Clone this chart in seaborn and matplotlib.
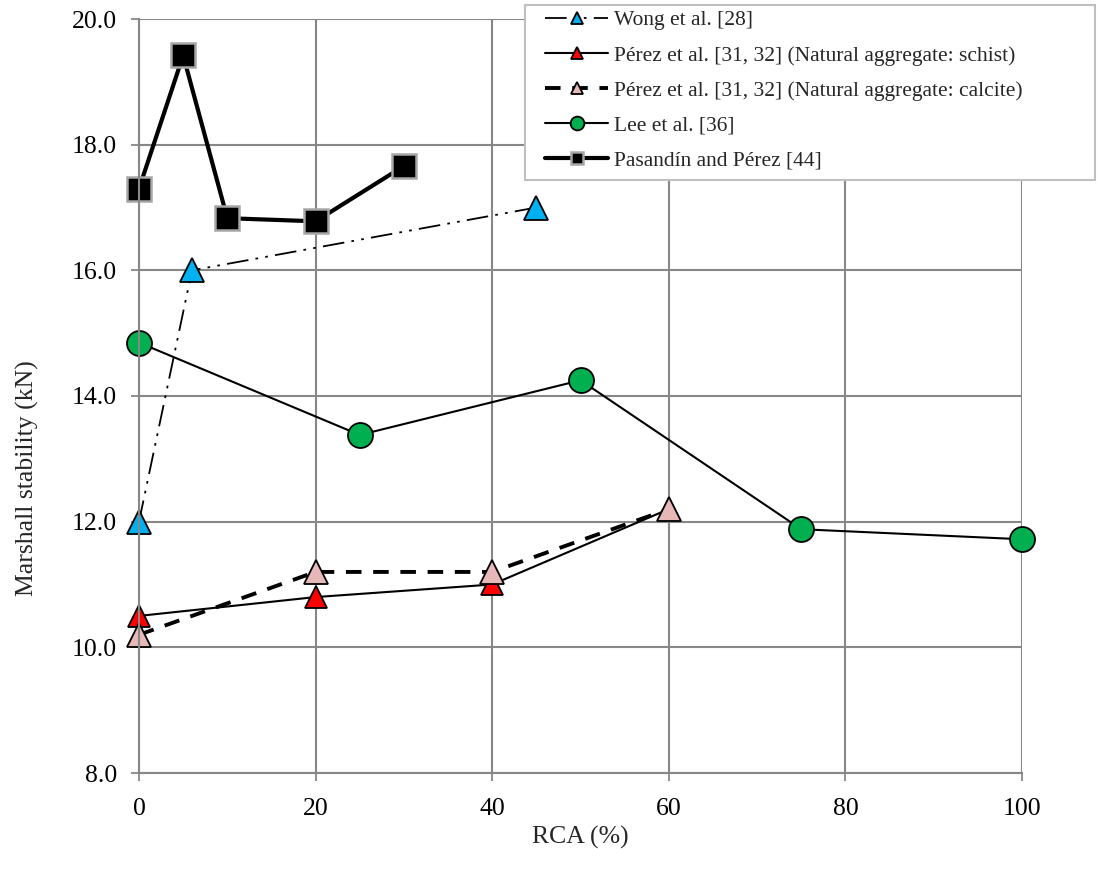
import matplotlib
matplotlib.use("Agg")
import matplotlib.pyplot as plt
from matplotlib.patches import Rectangle
import seaborn as sns

# Data
wong_x = [0, 6, 45]
wong_y = [12.0, 16.0, 17.0]

schist_x = [0, 20, 40, 60]
schist_y = [10.5, 10.8, 11.0, 12.2]

calcite_x = [0, 20, 40, 60]
calcite_y = [10.2, 11.2, 11.2, 12.2]

lee_x = [0, 25, 50, 75, 100]
lee_y = [14.85, 13.38, 14.25, 11.88, 11.72]

pas_x = [0, 5, 10, 20, 30]
pas_y = [17.3, 19.42, 16.83, 16.78, 17.66]

x_ticks = [0, 20, 40, 60, 80, 100]
y_ticks = [8, 10, 12, 14, 16, 18, 20]

sns.set_style("whitegrid")
plt.rcParams['font.family'] = ['Liberation Serif', 'DejaVu Serif']

fig = plt.figure(figsize=(10.99, 8.84), dpi=100)
ax = fig.add_axes([139 / 1099, 1 - 773 / 884, (1022 - 139) / 1099, (773 - 19) / 884])

grid_c = '#878787'

sns.lineplot(x=wong_x, y=wong_y, ax=ax, sort=False, color='black', lw=1.3,
             linestyle=(0, (12, 4, 1.5, 4, 1.5, 4)), marker='^', markersize=17,
             markerfacecolor='#00B0F0', markeredgecolor='black', markeredgewidth=1.3,
             label='Wong et al. [28]', clip_on=False)
sns.lineplot(x=schist_x, y=schist_y, ax=ax, sort=False, color='black', lw=1.5,
             marker='^', markersize=16, markerfacecolor='#FF0000',
             markeredgecolor='black', markeredgewidth=1.3,
             label='Pérez et al. [31, 32] (Natural aggregate: schist)', clip_on=False)
sns.lineplot(x=calcite_x, y=calcite_y, ax=ax, sort=False, color='black', lw=2.8,
             linestyle=(0, (4, 3)), marker='^', markersize=17,
             markerfacecolor='#E6B9B8', markeredgecolor='black', markeredgewidth=1.3,
             label='Pérez et al. [31, 32] (Natural aggregate: calcite)', clip_on=False)
sns.lineplot(x=lee_x, y=lee_y, ax=ax, sort=False, color='black', lw=1.5,
             marker='o', markersize=18, markerfacecolor='#00B050',
             markeredgecolor='black', markeredgewidth=1.3,
             label='Lee et al. [36]', clip_on=False)
sns.lineplot(x=pas_x, y=pas_y, ax=ax, sort=False, color='black', lw=3,
             marker='s', markersize=17, markerfacecolor='black',
             markeredgecolor='#A6A6A6', markeredgewidth=1.8,
             label='Pasandín and Pérez [44]', clip_on=False)

ax.set_xlim(0, 100)
ax.set_ylim(8, 20)
ax.set_xticks(x_ticks)
ax.set_yticks(y_ticks)
ax.set_yticklabels([f'{v:.1f}' for v in y_ticks])
ax.tick_params(axis='both', labelsize=18.5, colors=grid_c, labelcolor='black',
               length=6, width=1.3, direction='out', left=True, bottom=True)
ax.tick_params(axis='x', pad=12)
ax.tick_params(axis='y', pad=10)
ax.grid(True, color=grid_c, linewidth=1.5)
ax.set_axisbelow(True)
for side in ['top', 'right']:
    ax.spines[side].set_visible(False)
for side in ['left', 'bottom']:
    ax.spines[side].set_color(grid_c)
    ax.spines[side].set_linewidth(1.5)

ax.set_xlabel('RCA (%)', fontsize=18.5, labelpad=4)
ax.set_ylabel('Marshall stability (kN)', fontsize=18.5)
ax.yaxis.set_label_coords(-0.113, 0.391)

# legend frame drawn separately so it can be wider than its contents
frame = Rectangle((525 / 1099, 1 - 180 / 884), 570 / 1099, 175 / 884,
                  transform=fig.transFigure, facecolor='white',
                  edgecolor='#BFBFBF', linewidth=1.5, zorder=4, clip_on=False)
ax.add_artist(frame)
leg = ax.legend(loc='upper left', bbox_to_anchor=(541 / 1099, 1 - 6 / 884),
                bbox_transform=fig.transFigure, fontsize=15.5, frameon=False,
                markerscale=0.55, handlelength=2.9, handletextpad=0.3,
                labelspacing=0.7, borderpad=0.2, borderaxespad=0)
leg.set_zorder(5)

fig.savefig('out.png', dpi=100)
